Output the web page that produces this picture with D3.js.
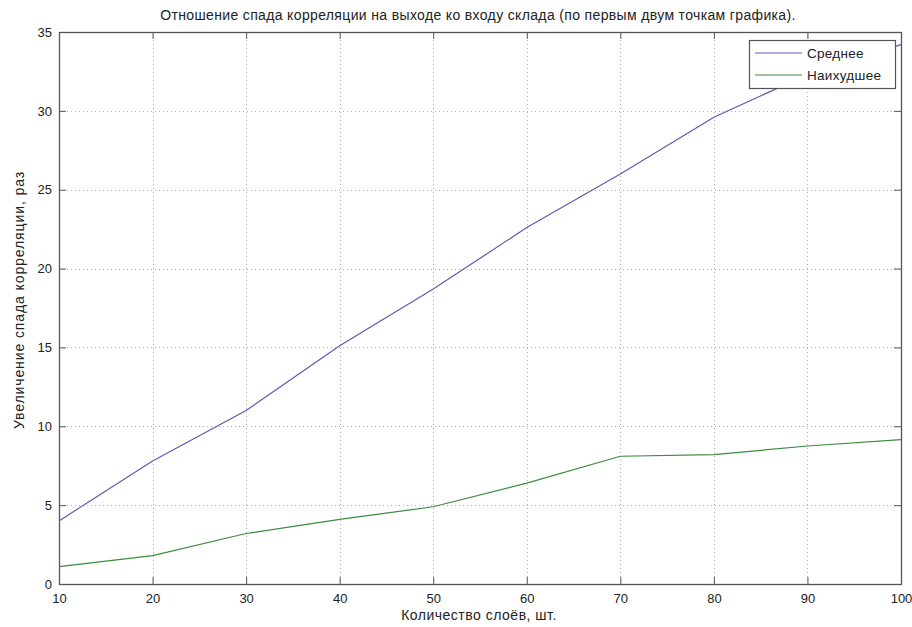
<!DOCTYPE html>
<html>
<head>
<meta charset="utf-8">
<script src="https://cdn.jsdelivr.net/npm/d3@7"></script>
<style>
  html, body { margin: 0; padding: 0; background: #fff; }
  svg { display: block; }
  text { font-family: "Liberation Sans", Arial, sans-serif; fill: #222; }
</style>
</head>
<body>
<svg id="chart" width="912" height="627"></svg>
<script>
// Number of layers
const layers = [10, 20, 30, 40, 50, 60, 70, 80, 90, 100];
// Average growth of correlation decay
const averageValues = [4.0, 7.8, 11.0, 15.1, 18.7, 22.6, 26.0, 29.6, 32.3, 34.2];
// Worst-case growth of correlation decay
const worstValues = [1.1, 1.8, 3.2, 4.1, 4.9, 6.4, 8.1, 8.2, 8.75, 9.15];

const xTicks = [10, 20, 30, 40, 50, 60, 70, 80, 90, 100];
const yTicks = [0, 5, 10, 15, 20, 25, 30, 35];

const seriesNames = ["Среднее", "Наихудшее"];
const seriesColors = ["#5c5cb0", "#3c8c3c"];

const titleText = "Отношение спада корреляции на выходе ко входу склада (по первым двум точкам графика).";
const xLabelText = "Количество слоёв, шт.";
const yLabelText = "Увеличение спада корреляции, раз";

const svg = d3.select("#chart");
const plotLeft = 59, plotRight = 901, plotTop = 32, plotBottom = 584;

const x = d3.scaleLinear().domain([10, 100]).range([plotLeft, plotRight]);
const y = d3.scaleLinear().domain([0, 35]).range([plotBottom, plotTop]);

// dotted grid
const grid = svg.append("g").attr("stroke", "#b0b0b0").attr("stroke-width", 1)
  .attr("stroke-dasharray", "1,3");
grid.selectAll("line.gx").data(xTicks.slice(1, -1)).enter().append("line")
  .attr("x1", d => Math.round(x(d)) + 0.5).attr("x2", d => Math.round(x(d)) + 0.5)
  .attr("y1", plotTop).attr("y2", plotBottom);
grid.selectAll("line.gy").data(yTicks.slice(1, -1)).enter().append("line")
  .attr("y1", d => Math.round(y(d)) + 0.5).attr("y2", d => Math.round(y(d)) + 0.5)
  .attr("x1", plotLeft).attr("x2", plotRight);

// axes with inward ticks
const tickLen = 7;
const axisColor = "#555";
function styleAxis(g) {
  g.select(".domain").remove();
  g.selectAll(".tick line").attr("stroke", axisColor);
  g.selectAll(".tick text").attr("font-size", 13).attr("fill", "#333");
}
svg.append("g").attr("transform", `translate(0,${plotBottom})`)
  .call(d3.axisBottom(x).tickValues(xTicks).tickSizeInner(-tickLen).tickSizeOuter(0).tickPadding(10))
  .call(styleAxis);
svg.append("g").attr("transform", `translate(0,${plotTop})`)
  .call(d3.axisTop(x).tickValues(xTicks).tickSizeInner(-tickLen).tickSizeOuter(0).tickFormat(""))
  .call(styleAxis);
svg.append("g").attr("transform", `translate(${plotLeft},0)`)
  .call(d3.axisLeft(y).tickValues(yTicks).tickSizeInner(-tickLen).tickSizeOuter(0).tickPadding(7))
  .call(styleAxis);
svg.append("g").attr("transform", `translate(${plotRight},0)`)
  .call(d3.axisRight(y).tickValues(yTicks).tickSizeInner(-tickLen).tickSizeOuter(0).tickFormat(""))
  .call(styleAxis);

// axes box
svg.append("rect").attr("x", plotLeft + 0.5).attr("y", plotTop + 0.5)
  .attr("width", plotRight - plotLeft).attr("height", plotBottom - plotTop)
  .attr("fill", "none").attr("stroke", axisColor).attr("stroke-width", 1.3);

// series lines
const line = d3.line().x((d, i) => x(layers[i])).y(d => y(d));
[averageValues, worstValues].forEach((vals, k) => {
  svg.append("path").datum(vals)
    .attr("fill", "none").attr("stroke", seriesColors[k]).attr("stroke-width", 1.2)
    .attr("d", line);
});

// legend
const lg = svg.append("g");
lg.append("rect").attr("x", 749.5).attr("y", 40.5).attr("width", 146).attr("height", 48)
  .attr("fill", "#fff").attr("stroke", axisColor).attr("stroke-width", 1.2);
seriesNames.forEach((name, i) => {
  const yy = 53 + i * 22;
  lg.append("line").attr("x1", 755).attr("x2", 802).attr("y1", yy).attr("y2", yy)
    .attr("stroke", seriesColors[i]).attr("stroke-width", 1.2);
  lg.append("text").attr("x", 807).attr("y", yy).attr("dy", "0.35em")
    .attr("font-size", 13.5).attr("letter-spacing", 0.3).text(name);
});

// title and axis labels
svg.append("text").attr("x", 478).attr("y", 20).attr("text-anchor", "middle")
  .attr("font-size", 14).attr("letter-spacing", 0.35).text(titleText);
svg.append("text").attr("x", 479).attr("y", 620).attr("text-anchor", "middle")
  .attr("font-size", 14).attr("letter-spacing", 0.5).text(xLabelText);
svg.append("text").attr("transform", "translate(24,300) rotate(-90)")
  .attr("text-anchor", "middle").attr("font-size", 14).attr("letter-spacing", 0.9).text(yLabelText);
</script>
</body>
</html>
